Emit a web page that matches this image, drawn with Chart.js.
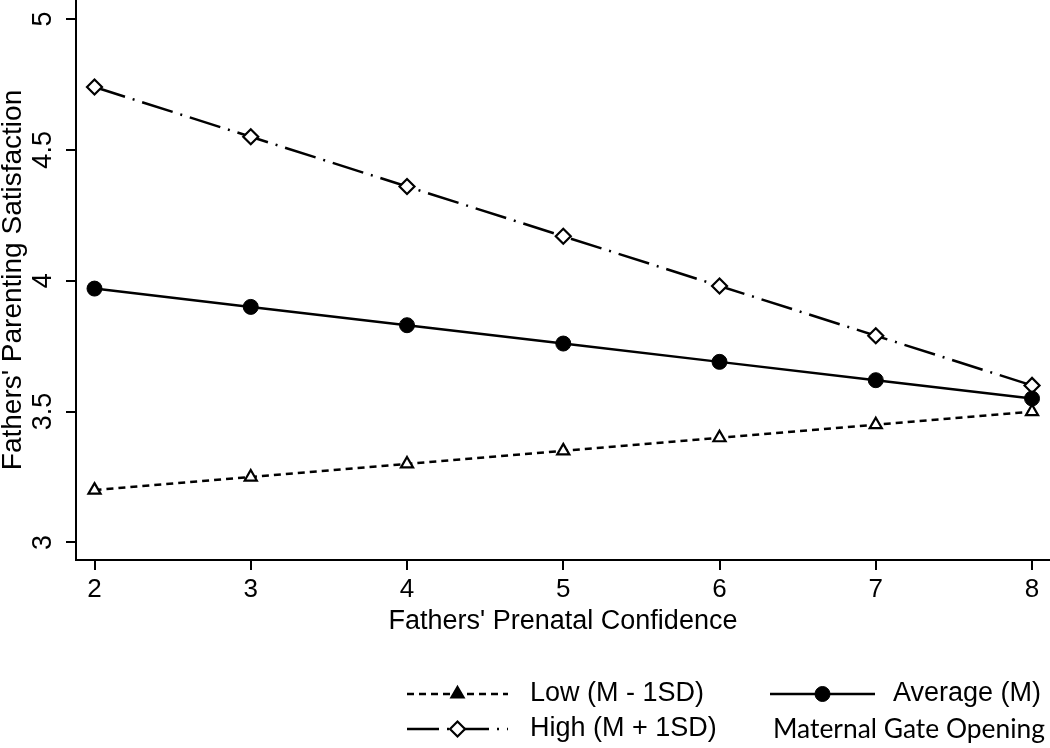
<!DOCTYPE html>
<html><head><meta charset="utf-8">
<script src="https://cdn.jsdelivr.net/npm/chart.js@4.4.0/dist/chart.umd.min.js"></script>
<style>html,body{margin:0;padding:0;background:#fff}#wrap{width:1050px;height:748px}</style>
</head><body><div id="wrap"><canvas id="c" width="1050" height="748"></canvas></div>
<script>
const xValues = [2, 3, 4, 5, 6, 7, 8];
const lowValues = [3.20, 3.25, 3.30, 3.35, 3.40, 3.45, 3.50];
const averageValues = [3.97, 3.90, 3.83, 3.76, 3.69, 3.62, 3.55];
const highValues = [4.74, 4.55, 4.36, 4.17, 3.98, 3.79, 3.60];
const xTicks = [2, 3, 4, 5, 6, 7, 8];
const yTicks = [3, 3.5, 4, 4.5, 5];
const yTickLabels = ['3', '3.5', '4', '4.5', '5'];
const seriesLabels = ['Low (M - 1SD)', 'Average (M)', 'High (M + 1SD)'];
const legendTitle = 'Maternal Gate Opening';
const xTitle = "Fathers' Prenatal Confidence";
const yTitle = "Fathers' Parenting Satisfaction";

const FONT = '"Liberation Sans", Arial, sans-serif';
const toPts = vals => xValues.map((x, i) => ({x: x, y: vals[i]}));

const legendPlugin = {
  id: 'customLegend',
  afterDraw(chart) {
    const ctx = chart.ctx;
    const ds = chart.data.datasets;
    const entries = [
      {d: ds[0], lx0: 407, lx1: 508, tx: 530, y: 694},
      {d: ds[1], lx0: 770, lx1: 875, tx: 893, y: 694},
      {d: ds[2], lx0: 407, lx1: 508, tx: 530, y: 729}
    ];
    ctx.save();
    entries.forEach(e => {
      ctx.beginPath();
      ctx.setLineDash(e.d.borderDash || []);
      ctx.lineDashOffset = 0;
      ctx.strokeStyle = '#000';
      ctx.lineWidth = e.d.borderWidth;
      ctx.moveTo(e.lx0, e.y);
      ctx.lineTo(e.lx1, e.y);
      ctx.stroke();
      ctx.setLineDash([]);
      ctx.fillStyle = e.d.legendFill || e.d.pointBackgroundColor;
      ctx.strokeStyle = e.d.pointBorderColor;
      ctx.lineWidth = e.d.pointBorderWidth;
      Chart.helpers.drawPoint(ctx, {pointStyle: e.d.pointStyle, radius: e.d.pointRadius, borderWidth: e.d.pointBorderWidth, rotation: 0}, (e.lx0 + e.lx1) / 2, e.y);
      ctx.fillStyle = '#000';
      ctx.font = '27px ' + FONT;
      ctx.textAlign = 'left';
      ctx.textBaseline = 'middle';
      ctx.fillText(e.d.label, e.tx, e.y);
    });
    ctx.font = '26px Lato, "Open Sans", sans-serif';
    const w = ctx.measureText(legendTitle).width;
    const size = 26 * 272 / w;
    ctx.font = size.toFixed(2) + 'px Lato, "Open Sans", sans-serif';
    ctx.textBaseline = 'middle';
    ctx.fillText(legendTitle, 773, 729);
    ctx.restore();
  }
};

new Chart(document.getElementById('c'), {
  type: 'line',
  data: {
    datasets: [
      {
        label: seriesLabels[0], data: toPts(lowValues),
        borderColor: '#000', borderWidth: 2.5, borderDash: [7, 5],
        pointStyle: 'triangle', pointRadius: 7, pointBorderWidth: 2.2,
        pointBackgroundColor: '#fff', pointBorderColor: '#000', legendFill: '#000',
        tension: 0, fill: false
      },
      {
        label: seriesLabels[1], data: toPts(averageValues),
        borderColor: '#000', borderWidth: 2.5, borderDash: [],
        pointStyle: 'circle', pointRadius: 7.5, pointBorderWidth: 1,
        pointBackgroundColor: '#000', pointBorderColor: '#000',
        tension: 0, fill: false
      },
      {
        label: seriesLabels[2], data: toPts(highValues),
        borderColor: '#000', borderWidth: 2.5, borderDash: [32, 8, 2, 8],
        pointStyle: 'rectRot', pointRadius: 7.5, pointBorderWidth: 2.2,
        pointBackgroundColor: '#fff', pointBorderColor: '#000',
        tension: 0, fill: false
      }
    ]
  },
  options: {
    responsive: false,
    animation: false,
    devicePixelRatio: 1,
    layout: {autoPadding: false, padding: {left: 0, right: 0, top: 0, bottom: 112}},
    plugins: {legend: {display: false}, tooltip: {enabled: false}},
    scales: {
      x: {
        type: 'linear', min: 1.8816, max: 8.115,
        afterBuildTicks: s => { s.ticks = xTicks.map(v => ({value: v})); },
        afterFit: s => { s.height = 76; s.paddingLeft = 0; s.paddingRight = 0; },
        grid: {display: true, drawOnChartArea: false, drawTicks: true, tickLength: 10, color: '#000', lineWidth: 2},
        border: {display: true, color: '#000', width: 2},
        ticks: {font: {family: FONT, size: 26}, color: '#000', padding: 4, maxRotation: 0, autoSkip: false},
        title: {display: true, text: xTitle, font: {family: FONT, size: 27}, color: '#000', padding: {top: 0, bottom: -2}}
      },
      y: {
        type: 'linear', min: 2.933, max: 5.0726,
        afterBuildTicks: s => { s.ticks = yTicks.map(v => ({value: v})); },
        afterFit: s => { s.width = 76; s.paddingTop = 0; s.paddingBottom = 0; },
        grid: {display: true, drawOnChartArea: false, drawTicks: true, tickLength: 10, color: '#000', lineWidth: 2},
        border: {display: true, color: '#000', width: 2},
        ticks: {
          font: {family: FONT, size: 27}, color: '#000', padding: 4, minRotation: 90, maxRotation: 90,
          crossAlign: 'center', autoSkip: false,
          callback: v => { const i = yTicks.indexOf(v); return i >= 0 ? yTickLabels[i] : ''; }
        },
        title: {display: true, text: yTitle, font: {family: FONT, size: 28}, color: '#000', padding: {top: -4, bottom: 0}}
      }
    }
  },
  plugins: [legendPlugin]
});
</script>
</body></html>
